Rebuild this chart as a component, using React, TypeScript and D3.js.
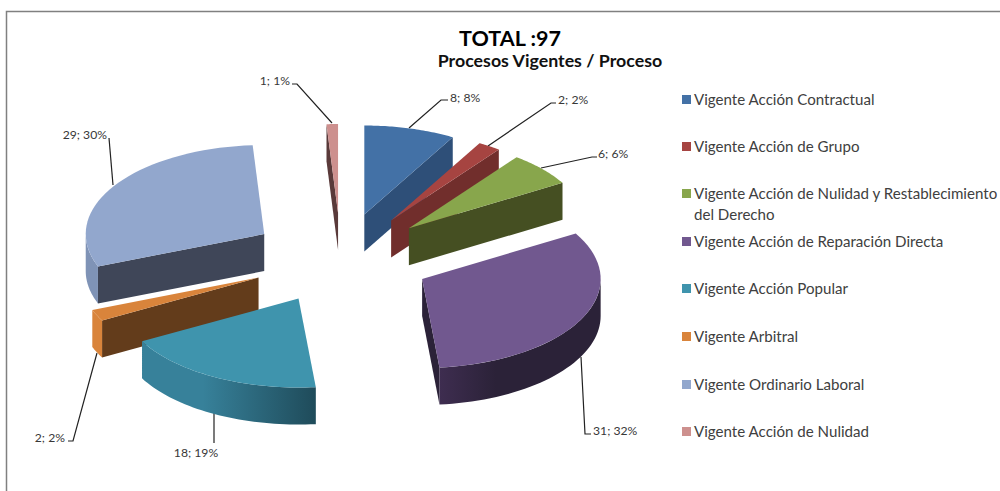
import React from "react";
import * as d3 from "d3";

const categories = [
  "Vigente Acción Contractual",
  "Vigente Acción de Grupo",
  "Vigente Acción de Nulidad y Restablecimiento del Derecho",
  "Vigente Acción de Reparación Directa",
  "Vigente Acción Popular",
  "Vigente Arbitral",
  "Vigente Ordinario Laboral",
  "Vigente Acción de Nulidad",
];
const values = [8, 2, 6, 31, 18, 2, 29, 1];

const topColors = ["#4371a6", "#a64441", "#88a64c", "#71588f", "#3f94ad", "#d9843b", "#92a7cd", "#cd908e"];
const wallColors = ["#2e4f78", "#712e2c", "#454f22", "#2b2238", "#37819a", "#633c1b", "#3f4658", "#5a3a3a"];
const outerEnds = ["#2e4f78", "#712e2c", "#454f22", "#2b2238", "#1f4b5a", "#d9843b", "#7f93b6", "#5a3a3a"];
const outerStarts = ["#2e4f78", "#712e2c", "#454f22", "#3e2d50", "#37819a", "#d9843b", "#7f93b6", "#5a3a3a"];

// painter's order, back slices first
const drawOrder = [7, 0, 1, 2, 6, 5, 4, 3];

// leader lines and label anchors, same order as categories
const leaderLines: [number, number][][] = [
  [[409, 128], [441, 100], [448, 100]],
  [[488, 146], [551, 103], [556, 103]],
  [[541, 168], [592, 157], [597, 157]],
  [[581, 357], [585, 434], [591, 434]],
  [[214, 413], [214, 443]],
  [[97, 353], [73, 441], [68, 441]],
  [[113, 185], [109, 138]],
  [[332, 123], [297, 84], [292, 84]],
];
const labelAnchors: [number, number, string][] = [
  [450, 102, "start"],
  [558, 104, "start"],
  [598, 158, "start"],
  [593, 435, "start"],
  [196, 457, "middle"],
  [65, 442, "end"],
  [107, 139, "end"],
  [290, 85, "end"],
];
const legendRows = [100, 147, 194, 242, 289, 337, 385, 432];

const cx = 341;
const cy = 258.4;
const rx = 178.5;
const ry = 89;
const explodeX = 91;
const explodeY = 45.4;
const depth = 37;
const FONT = "Lato, 'Open Sans', sans-serif";

export default function App() {
  const total = d3.sum(values);
  const arcs = d3.pie<number>().sort(null)(values);
  const line = d3.line();

  const slices = arcs.map((a, i) => {
    const mid = (a.startAngle + a.endAngle) / 2;
    const ox = cx + explodeX * Math.sin(mid);
    const oy = cy - explodeY * Math.cos(mid);
    const pt = (t: number, dy = 0): [number, number] => [
      ox + rx * Math.sin(t),
      oy - ry * Math.cos(t) + dy,
    ];
    const sweep = (from: number, to: number, dy = 0) =>
      d3.range(0, 41).map((k) => pt(from + ((to - from) * k) / 40, dy));
    const apex: [number, number] = [ox, oy];
    const apexLow: [number, number] = [ox, oy + depth];

    const top = [apex, ...sweep(a.startAngle, a.endAngle)];

    // cut face that looks at the viewer
    let wall: [number, number][] | null = null;
    if (a.endAngle <= Math.PI) {
      wall = [apex, pt(a.endAngle), pt(a.endAngle, depth), apexLow];
    } else if (a.startAngle >= Math.PI) {
      wall = [apex, pt(a.startAngle), pt(a.startAngle, depth), apexLow];
    }

    // rim only on the near half of the ellipse
    const from = Math.max(a.startAngle, Math.PI / 2);
    const to = Math.min(a.endAngle, (3 * Math.PI) / 2);
    const outer =
      to > from ? [...sweep(from, to), ...sweep(to, from, depth)] : null;
    const xs = outer ? outer.map((p) => p[0]) : [0, 1];

    return { i, top, wall, outer, x0: d3.min(xs)!, x1: d3.max(xs)! };
  });

  return (
    <svg
      width={1000}
      height={491}
      style={{ position: "absolute", left: 0, top: 0, background: "#fff" }}
      fontFamily={FONT}
    >
      <defs>
        {slices.map((s) =>
          s.outer ? (
            <linearGradient
              key={s.i}
              id={`rim${s.i}`}
              gradientUnits="userSpaceOnUse"
              x1={s.x0}
              x2={s.x1}
              y1={0}
              y2={0}
            >
              <stop offset="0" stopColor={outerStarts[s.i]} />
              <stop offset="0.35" stopColor={s.i === 3 ? outerEnds[s.i] : outerStarts[s.i]} />
              <stop offset="1" stopColor={outerEnds[s.i]} />
            </linearGradient>
          ) : null
        )}
      </defs>

      <path d="M6.5,491V11.5H1000" fill="none" stroke="#808080" strokeWidth={1.5} />

      <text x={510} y={46} textAnchor="middle" fontSize={21.5} fontWeight={700} fill="#000">
        TOTAL :97
      </text>
      <text x={550} y={67} textAnchor="middle" fontSize={17.8} fontWeight={700} fill="#111">
        Procesos Vigentes / Proceso
      </text>

      {leaderLines.map((pts, i) => (
        <path key={i} d={line(pts)!} fill="none" stroke="#222" strokeWidth={1.2} />
      ))}

      {drawOrder.map((i) => {
        const s = slices[i];
        return (
          <g key={i}>
            {s.wall && <path d={line(s.wall)! + "Z"} fill={wallColors[i]} />}
            {s.outer && <path d={line(s.outer)! + "Z"} fill={`url(#rim${i})`} />}
            <path d={line(s.top)! + "Z"} fill={topColors[i]} />
          </g>
        );
      })}

      {labelAnchors.map(([x, y, anchor], i) => (
        <text
          key={i}
          x={x}
          y={y}
          textAnchor={anchor as "start" | "middle" | "end"}
          fontSize={12.2}
          fill="#383838"
        >
          {`${values[i]}; ${Math.round((values[i] / total) * 100)}%`}
        </text>
      ))}

      {categories.map((c, i) => {
        const y = legendRows[i];
        // the long entry wraps in the reference
        const lines =
          i === 2
            ? ["Vigente Acción de Nulidad y Restablecimiento", "del Derecho"]
            : [c];
        return (
          <g key={c}>
            <rect x={682} y={y - 5} width={9} height={9} fill={topColors[i]} />
            {lines.map((t, k) => (
              <text key={k} x={694} y={y + 5 + k * 21} fontSize={15.1} fill="#404040">
                {t}
              </text>
            ))}
          </g>
        );
      })}
    </svg>
  );
}
